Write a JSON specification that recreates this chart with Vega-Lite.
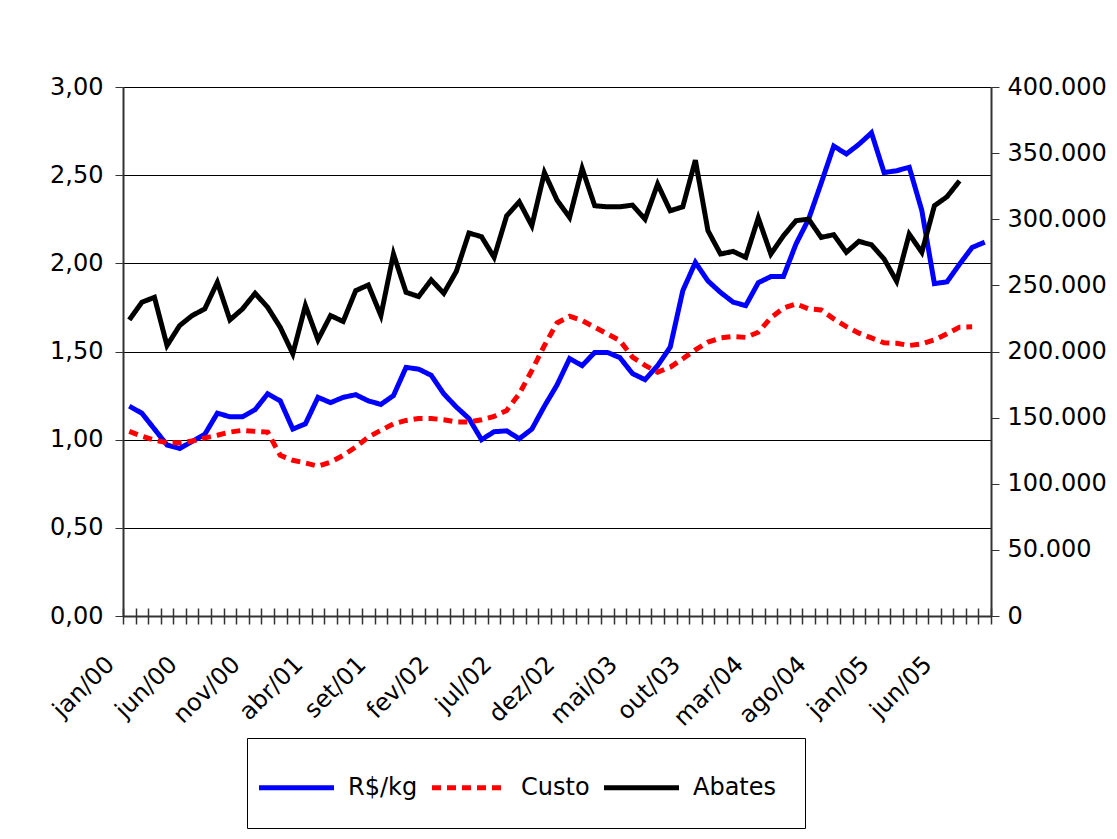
{
  "$schema": "https://vega.github.io/schema/vega-lite/v6.json",
  "width": 868,
  "height": 529,
  "padding": {"left": 48, "top": 75, "right": 5, "bottom": 5},
  "background": "white",
  "config": {
    "view": {"stroke": null},
    "font": "DejaVu Sans",
    "axis": {"labelFont": "Comic Sans MS, DejaVu Sans", "labelFontSize": 24, "labelColor": "#000"}
  },
  "datasets": {
    "precos": [
      {"m":"jan/00","s":"R$/kg","v":1.19},{"m":"fev/00","s":"R$/kg","v":1.15},{"m":"mar/00","s":"R$/kg","v":1.06},{"m":"abr/00","s":"R$/kg","v":0.97},{"m":"mai/00","s":"R$/kg","v":0.95},{"m":"jun/00","s":"R$/kg","v":0.99},{"m":"jul/00","s":"R$/kg","v":1.03},{"m":"ago/00","s":"R$/kg","v":1.15},{"m":"set/00","s":"R$/kg","v":1.13},{"m":"out/00","s":"R$/kg","v":1.13},{"m":"nov/00","s":"R$/kg","v":1.17},{"m":"dez/00","s":"R$/kg","v":1.26},
      {"m":"jan/01","s":"R$/kg","v":1.22},{"m":"fev/01","s":"R$/kg","v":1.06},{"m":"mar/01","s":"R$/kg","v":1.09},{"m":"abr/01","s":"R$/kg","v":1.24},{"m":"mai/01","s":"R$/kg","v":1.21},{"m":"jun/01","s":"R$/kg","v":1.24},{"m":"jul/01","s":"R$/kg","v":1.255},{"m":"ago/01","s":"R$/kg","v":1.22},{"m":"set/01","s":"R$/kg","v":1.2},{"m":"out/01","s":"R$/kg","v":1.25},{"m":"nov/01","s":"R$/kg","v":1.41},{"m":"dez/01","s":"R$/kg","v":1.4},
      {"m":"jan/02","s":"R$/kg","v":1.365},{"m":"fev/02","s":"R$/kg","v":1.26},{"m":"mar/02","s":"R$/kg","v":1.185},{"m":"abr/02","s":"R$/kg","v":1.12},{"m":"mai/02","s":"R$/kg","v":1.0},{"m":"jun/02","s":"R$/kg","v":1.045},{"m":"jul/02","s":"R$/kg","v":1.05},{"m":"ago/02","s":"R$/kg","v":1.005},{"m":"set/02","s":"R$/kg","v":1.06},{"m":"out/02","s":"R$/kg","v":1.19},{"m":"nov/02","s":"R$/kg","v":1.31},{"m":"dez/02","s":"R$/kg","v":1.46},
      {"m":"jan/03","s":"R$/kg","v":1.42},{"m":"fev/03","s":"R$/kg","v":1.495},{"m":"mar/03","s":"R$/kg","v":1.495},{"m":"abr/03","s":"R$/kg","v":1.465},{"m":"mai/03","s":"R$/kg","v":1.375},{"m":"jun/03","s":"R$/kg","v":1.34},{"m":"jul/03","s":"R$/kg","v":1.42},{"m":"ago/03","s":"R$/kg","v":1.525},{"m":"set/03","s":"R$/kg","v":1.845},{"m":"out/03","s":"R$/kg","v":2.005},{"m":"nov/03","s":"R$/kg","v":1.9},{"m":"dez/03","s":"R$/kg","v":1.835},
      {"m":"jan/04","s":"R$/kg","v":1.78},{"m":"fev/04","s":"R$/kg","v":1.76},{"m":"mar/04","s":"R$/kg","v":1.89},{"m":"abr/04","s":"R$/kg","v":1.925},{"m":"mai/04","s":"R$/kg","v":1.925},{"m":"jun/04","s":"R$/kg","v":2.11},{"m":"jul/04","s":"R$/kg","v":2.25},{"m":"ago/04","s":"R$/kg","v":2.455},{"m":"set/04","s":"R$/kg","v":2.665},{"m":"out/04","s":"R$/kg","v":2.62},{"m":"nov/04","s":"R$/kg","v":2.675},{"m":"dez/04","s":"R$/kg","v":2.74},
      {"m":"jan/05","s":"R$/kg","v":2.515},{"m":"fev/05","s":"R$/kg","v":2.525},{"m":"mar/05","s":"R$/kg","v":2.545},{"m":"abr/05","s":"R$/kg","v":2.3},{"m":"mai/05","s":"R$/kg","v":1.885},{"m":"jun/05","s":"R$/kg","v":1.895},{"m":"jul/05","s":"R$/kg","v":1.995},{"m":"ago/05","s":"R$/kg","v":2.09},{"m":"set/05","s":"R$/kg","v":2.12},
      {"m":"jan/00","s":"Custo","v":1.047},{"m":"fev/00","s":"Custo","v":1.02},{"m":"mar/00","s":"Custo","v":0.997},{"m":"abr/00","s":"Custo","v":0.983},{"m":"mai/00","s":"Custo","v":0.983},{"m":"jun/00","s":"Custo","v":0.992},{"m":"jul/00","s":"Custo","v":1.01},{"m":"ago/00","s":"Custo","v":1.025},{"m":"set/00","s":"Custo","v":1.043},{"m":"out/00","s":"Custo","v":1.053},{"m":"nov/00","s":"Custo","v":1.047},{"m":"dez/00","s":"Custo","v":1.043},
      {"m":"jan/01","s":"Custo","v":0.911},{"m":"fev/01","s":"Custo","v":0.883},{"m":"mar/01","s":"Custo","v":0.868},{"m":"abr/01","s":"Custo","v":0.85},{"m":"mai/01","s":"Custo","v":0.873},{"m":"jun/01","s":"Custo","v":0.911},{"m":"jul/01","s":"Custo","v":0.958},{"m":"ago/01","s":"Custo","v":1.015},{"m":"set/01","s":"Custo","v":1.053},{"m":"out/01","s":"Custo","v":1.09},{"m":"nov/01","s":"Custo","v":1.109},{"m":"dez/01","s":"Custo","v":1.12},
      {"m":"jan/02","s":"Custo","v":1.12},{"m":"fev/02","s":"Custo","v":1.113},{"m":"mar/02","s":"Custo","v":1.1},{"m":"abr/02","s":"Custo","v":1.1},{"m":"mai/02","s":"Custo","v":1.113},{"m":"jun/02","s":"Custo","v":1.132},{"m":"jul/02","s":"Custo","v":1.166},{"m":"ago/02","s":"Custo","v":1.26},{"m":"set/02","s":"Custo","v":1.392},{"m":"out/02","s":"Custo","v":1.534},{"m":"nov/02","s":"Custo","v":1.662},{"m":"dez/02","s":"Custo","v":1.7},
      {"m":"jan/03","s":"Custo","v":1.675},{"m":"fev/03","s":"Custo","v":1.638},{"m":"mar/03","s":"Custo","v":1.6},{"m":"abr/03","s":"Custo","v":1.562},{"m":"mai/03","s":"Custo","v":1.468},{"m":"jun/03","s":"Custo","v":1.421},{"m":"jul/03","s":"Custo","v":1.383},{"m":"ago/03","s":"Custo","v":1.411},{"m":"set/03","s":"Custo","v":1.459},{"m":"out/03","s":"Custo","v":1.51},{"m":"nov/03","s":"Custo","v":1.553},{"m":"dez/03","s":"Custo","v":1.577},
      {"m":"jan/04","s":"Custo","v":1.585},{"m":"fev/04","s":"Custo","v":1.58},{"m":"mar/04","s":"Custo","v":1.609},{"m":"abr/04","s":"Custo","v":1.691},{"m":"mai/04","s":"Custo","v":1.746},{"m":"jun/04","s":"Custo","v":1.77},{"m":"jul/04","s":"Custo","v":1.742},{"m":"ago/04","s":"Custo","v":1.736},{"m":"set/04","s":"Custo","v":1.685},{"m":"out/04","s":"Custo","v":1.641},{"m":"nov/04","s":"Custo","v":1.604},{"m":"dez/04","s":"Custo","v":1.577},
      {"m":"jan/05","s":"Custo","v":1.549},{"m":"fev/05","s":"Custo","v":1.547},{"m":"mar/05","s":"Custo","v":1.534},{"m":"abr/05","s":"Custo","v":1.543},{"m":"mai/05","s":"Custo","v":1.566},{"m":"jun/05","s":"Custo","v":1.6},{"m":"jul/05","s":"Custo","v":1.638},{"m":"ago/05","s":"Custo","v":1.64}
    ],
    "abates": [
      {"m":"jan/00","s":"Abates","v":223900},{"m":"fev/00","s":"Abates","v":237200},{"m":"mar/00","s":"Abates","v":241000},{"m":"abr/00","s":"Abates","v":204500},{"m":"mai/00","s":"Abates","v":219600},{"m":"jun/00","s":"Abates","v":227200},{"m":"jul/00","s":"Abates","v":232200},{"m":"ago/00","s":"Abates","v":252300},{"m":"set/00","s":"Abates","v":223900},{"m":"out/00","s":"Abates","v":232200},{"m":"nov/00","s":"Abates","v":244000},{"m":"dez/00","s":"Abates","v":233400},
      {"m":"jan/01","s":"Abates","v":218300},{"m":"fev/01","s":"Abates","v":198300},{"m":"mar/01","s":"Abates","v":234700},{"m":"abr/01","s":"Abates","v":208800},{"m":"mai/01","s":"Abates","v":227200},{"m":"jun/01","s":"Abates","v":222700},{"m":"jul/01","s":"Abates","v":246000},{"m":"ago/01","s":"Abates","v":250300},{"m":"set/01","s":"Abates","v":227200},{"m":"out/01","s":"Abates","v":273700},{"m":"nov/01","s":"Abates","v":244800},{"m":"dez/01","s":"Abates","v":241500},
      {"m":"jan/02","s":"Abates","v":254100},{"m":"fev/02","s":"Abates","v":244000},{"m":"mar/02","s":"Abates","v":260600},{"m":"abr/02","s":"Abates","v":289600},{"m":"mai/02","s":"Abates","v":286800},{"m":"jun/02","s":"Abates","v":271200},{"m":"jul/02","s":"Abates","v":302600},{"m":"ago/02","s":"Abates","v":313200},{"m":"set/02","s":"Abates","v":295100},{"m":"out/02","s":"Abates","v":335300},{"m":"nov/02","s":"Abates","v":314500},{"m":"dez/02","s":"Abates","v":301400},
      {"m":"jan/03","s":"Abates","v":338400},{"m":"fev/03","s":"Abates","v":310200},{"m":"mar/03","s":"Abates","v":309400},{"m":"abr/03","s":"Abates","v":309400},{"m":"mai/03","s":"Abates","v":310700},{"m":"jun/03","s":"Abates","v":300100},{"m":"jul/03","s":"Abates","v":326600},{"m":"ago/03","s":"Abates","v":306400},{"m":"set/03","s":"Abates","v":309400},{"m":"out/03","s":"Abates","v":344700},{"m":"nov/03","s":"Abates","v":291300},{"m":"dez/03","s":"Abates","v":273700},
      {"m":"jan/04","s":"Abates","v":275700},{"m":"fev/04","s":"Abates","v":271200},{"m":"mar/04","s":"Abates","v":301000},{"m":"abr/04","s":"Abates","v":273700},{"m":"mai/04","s":"Abates","v":287500},{"m":"jun/04","s":"Abates","v":298900},{"m":"jul/04","s":"Abates","v":300100},{"m":"ago/04","s":"Abates","v":286300},{"m":"set/04","s":"Abates","v":288300},{"m":"out/04","s":"Abates","v":275000},{"m":"nov/04","s":"Abates","v":283300},{"m":"dez/04","s":"Abates","v":280700},
      {"m":"jan/05","s":"Abates","v":270000},{"m":"fev/05","s":"Abates","v":253100},{"m":"mar/05","s":"Abates","v":288800},{"m":"abr/05","s":"Abates","v":275000},{"m":"mai/05","s":"Abates","v":310200},{"m":"jun/05","s":"Abates","v":317000},{"m":"jul/05","s":"Abates","v":329000}
    ]
  },
  "layer": [
    {
      "data": {"name": "precos"},
      "mark": {"type": "line", "strokeWidth": 5},
      "encoding": {
        "x": {
          "field": "m", "type": "ordinal", "bandPosition": 0.5,
          "scale": {"type": "band", "paddingInner": 0, "paddingOuter": 0, "domain": ["jan/00","fev/00","mar/00","abr/00","mai/00","jun/00","jul/00","ago/00","set/00","out/00","nov/00","dez/00","jan/01","fev/01","mar/01","abr/01","mai/01","jun/01","jul/01","ago/01","set/01","out/01","nov/01","dez/01","jan/02","fev/02","mar/02","abr/02","mai/02","jun/02","jul/02","ago/02","set/02","out/02","nov/02","dez/02","jan/03","fev/03","mar/03","abr/03","mai/03","jun/03","jul/03","ago/03","set/03","out/03","nov/03","dez/03","jan/04","fev/04","mar/04","abr/04","mai/04","jun/04","jul/04","ago/04","set/04","out/04","nov/04","dez/04","jan/05","fev/05","mar/05","abr/05","mai/05","jun/05","jul/05","ago/05","set/05"]},
          "axis": {
            "orient": "bottom", "title": null, "ticks": false, "domain": true, "domainColor": "#333", "domainWidth": 2, "grid": false,
            "labelAngle": -45, "labelAlign": "right", "labelBaseline": "top", "labelPadding": 36, "labelOffset": -27, "labelOverlap": false,
            "labelExpr": "indexof(['jan/00','jun/00','nov/00','abr/01','set/01','fev/02','jul/02','dez/02','mai/03','out/03','mar/04','ago/04','jan/05','jun/05'], datum.value) >= 0 ? datum.value : ''"
          }
        },
        "y": {
          "field": "v", "type": "quantitative",
          "scale": {"domain": [0, 3], "nice": false, "zero": true},
          "axis": {
            "orient": "left", "title": null, "values": [0, 0.5, 1, 1.5, 2, 2.5, 3],
            "grid": true, "gridColor": "#000", "gridWidth": 1, "gridOpacity": 1,
            "tickSize": 8, "tickColor": "#333", "domainColor": "#333", "domainWidth": 2, "labelPadding": 12,
            "labelExpr": "replace(format(datum.value, '.2f'), '.', ',')"
          }
        },
        "color": {
          "field": "s", "type": "nominal",
          "scale": {"domain": ["R$/kg", "Custo", "Abates"], "range": ["#0000FF", "#FF0000", "#000000"]},
          "legend": {"title": null, "orient": "none", "legendX": 124, "legendY": 651, "direction": "horizontal", "strokeColor": "#000", "fillColor": "#fff", "padding": 28, "symbolType": "M-2,0H2", "symbolSize": 1406, "symbolStrokeWidth": 5, "labelFont": "Comic Sans MS, DejaVu Sans", "labelFontSize": 24, "labelColor": "#000", "labelOffset": 30, "columnPadding": 4, "labelLimit": 0}
        },
        "strokeDash": {
          "field": "s", "type": "nominal",
          "scale": {"domain": ["R$/kg", "Custo", "Abates"], "range": [[1, 0], [9, 6], [1, 0]]},
          "legend": {"title": null, "orient": "none", "legendX": 124, "legendY": 651, "direction": "horizontal", "strokeColor": "#000", "fillColor": "#fff", "padding": 28, "symbolType": "M-2,0H2", "symbolSize": 1406, "symbolStrokeWidth": 5, "labelFont": "Comic Sans MS, DejaVu Sans", "labelFontSize": 24, "labelColor": "#000", "labelOffset": 30, "columnPadding": 4, "labelLimit": 0}
        }
      }
    },
    {
      "data": {"name": "abates"},
      "mark": {"type": "line", "strokeWidth": 5},
      "encoding": {
        "x": {
          "field": "m", "type": "ordinal", "bandPosition": 0.5,
          "axis": {"orient": "bottom", "title": null, "labels": false, "domain": false, "ticks": true, "tickBand": "extent", "tickSize": 16, "offset": -8, "tickColor": "#333", "tickWidth": 1.5, "grid": false}
        },
        "y": {
          "field": "v", "type": "quantitative",
          "scale": {"domain": [0, 400000], "nice": false},
          "axis": {
            "orient": "right", "title": null, "values": [0, 50000, 100000, 150000, 200000, 250000, 300000, 350000, 400000],
            "grid": false, "tickSize": 8, "tickColor": "#333", "domainColor": "#333", "domainWidth": 2, "labelPadding": 8,
            "labelExpr": "replace(format(datum.value, ','), ',', '.')"
          }
        },
        "color": {"field": "s", "type": "nominal"},
        "strokeDash": {"field": "s", "type": "nominal"}
      }
    }
  ],
  "resolve": {"scale": {"y": "independent"}, "axis": {"x": "independent", "y": "independent"}}
}
